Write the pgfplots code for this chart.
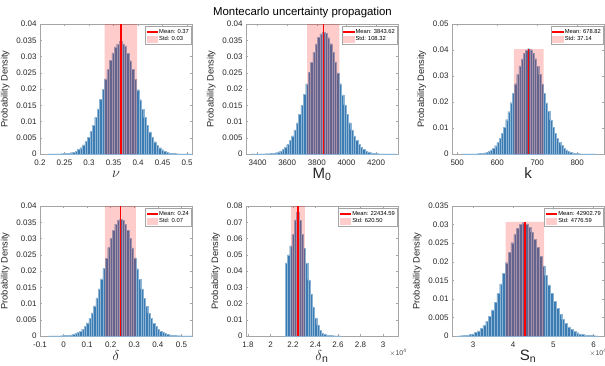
\documentclass[border=0pt]{standalone}
\usepackage{fontspec}
\setmainfont{Liberation Sans}
\usepackage{pgfplots}
\usepackage{pgfplotstable}
\pgfplotsset{compat=1.18}
\definecolor{histblue}{RGB}{60,124,178}
\definecolor{histedge}{RGB}{140,180,212}
\definecolor{axgray}{RGB}{165,165,165}
\definecolor{meanred}{RGB}{255,0,0}
\definecolor{stdpink}{RGB}{255,204,204}

% nu : bin centre = 0.364 + 0.005 k
\pgfplotstableread{
k y
-29 0.00002
-28 0.00003
-27 0.00004
-26 0.00005
-25 0.00006
-24 0.00008
-23 0.00012
-22 0.00018
-21 0.00027
-20 0.00040
-19 0.00060
-18 0.00090
-17 0.00135
-16 0.00195
-15 0.00278
-14 0.00382
-13 0.00516
-12 0.00690
-11 0.00880
-10 0.01125
-9 0.01390
-8 0.01690
-7 0.01990
-6 0.02310
-5 0.02600
-4 0.02890
-3 0.03110
-2 0.03300
-1 0.03380
0 0.03470
1 0.03390
2 0.03330
3 0.03100
4 0.02870
5 0.02610
6 0.02290
7 0.01980
8 0.01670
9 0.01380
10 0.01120
11 0.00885
12 0.00680
13 0.00512
14 0.00378
15 0.00273
16 0.00193
17 0.00133
18 0.00090
19 0.00059
20 0.00038
21 0.00024
22 0.00015
23 0.00010
24 0.00006
25 0.00004
26 0.00003
27 0.00002
28 0.00001
29 0.00001
}\tabNu

% M0 : bin centre = 3845 + 16 k
\pgfplotstableread{
k y
-30 0.00001
-29 0.00002
-28 0.00003
-27 0.00004
-26 0.00005
-25 0.00006
-24 0.00008
-23 0.00011
-22 0.00017
-21 0.00027
-20 0.00042
-19 0.00065
-18 0.00098
-17 0.00146
-16 0.00212
-15 0.00300
-14 0.00415
-13 0.00560
-12 0.00745
-11 0.00958
-10 0.01222
-9 0.01505
-8 0.01830
-7 0.02155
-6 0.02505
-5 0.02825
-4 0.03135
-3 0.03385
-2 0.03590
-1 0.03700
0 0.03750
1 0.03715
2 0.03580
3 0.03395
4 0.03125
5 0.02835
6 0.02495
7 0.02165
8 0.01820
9 0.01510
10 0.01215
11 0.00962
12 0.00740
13 0.00558
14 0.00412
15 0.00298
16 0.00209
17 0.00144
18 0.00097
19 0.00064
20 0.00041
21 0.00026
22 0.00016
23 0.00010
24 0.00007
25 0.00005
26 0.00004
27 0.00003
28 0.00002
29 0.00002
30 0.00001
}\tabM

% k : bin centre = 679 + 5.5 k
\pgfplotstableread{
k y
-30 0.00001
-29 0.00002
-28 0.00003
-27 0.00004
-26 0.00005
-25 0.00007
-24 0.00009
-23 0.00012
-22 0.00018
-21 0.00028
-20 0.00045
-19 0.00070
-18 0.00106
-17 0.00157
-16 0.00228
-15 0.00322
-14 0.00447
-13 0.00603
-12 0.00803
-11 0.01036
-10 0.01318
-9 0.01626
-8 0.01975
-7 0.02330
-6 0.02705
-5 0.03055
-4 0.03385
-3 0.03658
-2 0.03875
-1 0.04000
0 0.04050
1 0.04010
2 0.03870
3 0.03665
4 0.03380
5 0.03060
6 0.02698
7 0.02336
8 0.01970
9 0.01630
10 0.01314
11 0.01038
12 0.00801
13 0.00604
14 0.00445
15 0.00323
16 0.00226
17 0.00157
18 0.00106
19 0.00070
20 0.00045
21 0.00028
22 0.00017
23 0.00011
24 0.00007
25 0.00005
26 0.00004
27 0.00003
28 0.00002
29 0.00001
30 0.00001
}\tabK

% delta : bin centre = 0.242 + 0.01 k
\pgfplotstableread{
k y
-30 0.00002
-29 0.00003
-28 0.00004
-27 0.00005
-26 0.00007
-25 0.00009
-24 0.00012
-23 0.00016
-22 0.00024
-21 0.00035
-20 0.00052
-19 0.00075
-18 0.00108
-17 0.00152
-16 0.00212
-15 0.00295
-14 0.00402
-13 0.00540
-12 0.00715
-11 0.00925
-10 0.01172
-9 0.01448
-8 0.01755
-7 0.02075
-6 0.02400
-5 0.02720
-4 0.03005
-3 0.03255
-2 0.03440
-1 0.03555
0 0.03600
1 0.03565
2 0.03445
3 0.03250
4 0.03010
5 0.02715
6 0.02405
7 0.02070
8 0.01750
9 0.01450
10 0.01168
11 0.00920
12 0.00712
13 0.00538
14 0.00400
15 0.00292
16 0.00210
17 0.00150
18 0.00106
19 0.00074
20 0.00051
21 0.00034
22 0.00023
23 0.00015
24 0.00011
25 0.00008
26 0.00006
27 0.00004
28 0.00003
29 0.00002
30 0.00001
}\tabD

% delta_n : bin centres, width 200
\pgfplotstableread{
x y
21400 0.0450
21600 0.0500
21800 0.0555
22000 0.0625
22200 0.0715
22400 0.0760
22600 0.0712
22800 0.0625
23000 0.0540
23200 0.0450
23400 0.0345
23600 0.0260
23800 0.0180
24000 0.0112
24200 0.0068
24400 0.0036
24600 0.0019
24800 0.0010
25000 0.0006
25200 0.0004
25400 0.0003
25600 0.0002
25800 0.00015
26000 0.0001
26200 0.0001
}\tabDn

% S_n : bin centre = 42600 + 700 k
\pgfplotstableread{
k y
-23 0.00005
-22 0.00009
-21 0.00015
-20 0.00024
-19 0.00039
-18 0.00060
-17 0.00092
-16 0.00138
-15 0.00200
-14 0.00285
-13 0.00394
-12 0.00534
-11 0.00705
-10 0.00909
-9 0.01144
-8 0.01406
-7 0.01686
-6 0.01973
-5 0.02254
-4 0.02513
-3 0.02735
-2 0.02906
-1 0.03013
0 0.03050
1 0.03020
2 0.02934
3 0.02794
4 0.02608
5 0.02388
6 0.02144
7 0.01888
8 0.01629
9 0.01379
10 0.01144
11 0.00933
12 0.00744
13 0.00583
14 0.00446
15 0.00336
16 0.00248
17 0.00179
18 0.00127
19 0.00089
20 0.00060
21 0.00041
22 0.00027
23 0.00017
24 0.00011
25 0.00007
26 0.00004
}\tabS

\pgfplotsset{
  hist/.style={
    scale only axis, width=152pt, height=130pt,
    axis line style={axgray, line width=0.4pt},
    every tick/.style={axgray, line width=0.4pt},
    tick align=inside, major tick length=1.8pt,
    tick label style={font=\fontsize{8}{9}\selectfont, text=black!85},
    xticklabel style={yshift=-2pt},
    /pgf/number format/assume math mode=true,
    /pgf/number format/1000 sep={},
    scaled x ticks=false, scaled y ticks=false,
    yticklabel style={/pgf/number format/fixed, /pgf/number format/precision=3},
    ylabel={Probability Density},
    ylabel style={font=\fontsize{9.3}{10}\selectfont, text=black!85},
    xlabel style={font=\fontsize{15}{16}\selectfont, text=black!85, at={(rel axis cs:0.5,0)}, anchor=base, yshift=-24.5pt, inner sep=0pt},
    ymin=0,
    legend style={draw=axgray, line width=0.4pt, font=\fontsize{5.8}{6.6}\selectfont, at={(1,1)}, xshift=-0.8pt, yshift=-2.4pt, anchor=north east, inner xsep=1.2pt, inner ysep=1.4pt, row sep=0pt, nodes={inner sep=1pt}},
    legend cell align=left,
  },
  bars/.style={ybar, bar shift=0pt, fill=histblue, draw=histedge, line width=0.25pt, forget plot},
  shade/.style={fill=red, fill opacity=0.2, draw=none, forget plot},
  meanline/.style={meanred, line width=1.3pt, forget plot},
  scalelabel/.style={after end axis/.code={\node[font=\fontsize{7}{8}\selectfont, text=black!70, anchor=center] at (rel axis cs:1,0) [xshift=#1, yshift=-17pt] {$\times$10\textsuperscript{4}};}},
}
\newcommand{\meanstd}[2]{%
  \addlegendimage{meanred, fill=meanred, draw=none, legend image code/.code={\color{meanred}\pgfsetfillcolor{meanred}\pgfpathrectangle{\pgfpoint{0pt}{-0.8pt}}{\pgfpoint{11.5pt}{1.6pt}}\pgfusepath{fill}}}
  \addlegendentry{Mean: #1}
  \addlegendimage{legend image code/.code={\pgfsetfillcolor{stdpink}\pgfpathrectangle{\pgfpoint{0pt}{-3.3pt}}{\pgfpoint{11.5pt}{6.6pt}}\pgfusepath{fill}}}
  \addlegendentry{Std: #2}
}

\begin{document}
\begin{tikzpicture}
\path[use as bounding box] (0pt,0pt) rectangle (605pt,365pt);
\node[font=\fontsize{11.4}{13}\selectfont, anchor=base] at (302.5pt,349.5pt) {Montecarlo uncertainty propagation};

% ---------- nu ----------
\begin{axis}[hist, at={(40pt,211pt)}, anchor=south west,
  xmin=0.2, xmax=0.51, ymax=0.04,
  xtick={0.2,0.25,0.3,0.35,0.4,0.45,0.5},
  xticklabel style={/pgf/number format/fixed, /pgf/number format/precision=2},
  ytick={0,0.005,0.01,0.015,0.02,0.025,0.03,0.035,0.04},
  xlabel={$\nu$}, xlabel style={yshift=1.5pt}]
\addplot[bars, bar width=0.005] table[x expr={0.364+0.005*\thisrow{k}}, y=y] {\tabNu};
\addplot[shade] coordinates {(0.3317,0) (0.3317,0.041) (0.3983,0.041) (0.3983,0)} \closedcycle;
\addplot[meanline] coordinates {(0.365,0) (0.365,0.041)};
\meanstd{0.37}{0.03}
\end{axis}

% ---------- M0 ----------
\begin{axis}[hist, at={(246pt,211pt)}, anchor=south west,
  xmin=3322, xmax=4348, ymax=0.04,
  xtick={3400,3600,3800,4000,4200},
  ytick={0,0.005,0.01,0.015,0.02,0.025,0.03,0.035,0.04},
  xlabel={M\textsubscript{0}}]
\addplot[bars, bar width=16] table[x expr={3845+16*\thisrow{k}}, y=y] {\tabM};
\addplot[shade] coordinates {(3735.3,0) (3735.3,0.041) (3951.9,0.041) (3951.9,0)} \closedcycle;
\addplot[meanline] coordinates {(3843.62,0) (3843.62,0.041)};
\meanstd{3843.62}{108.32}
\end{axis}

% ---------- k ----------
\begin{axis}[hist, at={(452pt,211pt)}, anchor=south west,
  xmin=487, xmax=867, ymax=0.05,
  xtick={500,600,700,800},
  ytick={0,0.01,0.02,0.03,0.04,0.05},
  xlabel={k}]
\addplot[bars, bar width=5.5] table[x expr={679+5.5*\thisrow{k}}, y=y] {\tabK};
\addplot[shade] coordinates {(641.68,0) (641.68,0.0403) (715.96,0.0403) (715.96,0)} \closedcycle;
\addplot[meanline] coordinates {(678.82,0) (678.82,0.0403)};
\meanstd{678.82}{37.14}
\end{axis}

% ---------- delta ----------
\begin{axis}[hist, at={(40pt,29pt)}, anchor=south west,
  xmin=-0.1, xmax=0.545, ymax=0.04,
  xtick={-0.1,0,0.1,0.2,0.3,0.4,0.5},
  xticklabel style={/pgf/number format/fixed, /pgf/number format/precision=1},
  ytick={0,0.005,0.01,0.015,0.02,0.025,0.03,0.035,0.04},
  xlabel={$\delta$}]
\addplot[bars, bar width=0.01] table[x expr={0.242+0.01*\thisrow{k}}, y=y] {\tabD};
\addplot[shade] coordinates {(0.1755,0) (0.1755,0.041) (0.3065,0.041) (0.3065,0)} \closedcycle;
\addplot[meanline] coordinates {(0.241,0) (0.241,0.041)};
\meanstd{0.24}{0.07}
\end{axis}

% ---------- delta_n ----------
\begin{axis}[hist, at={(246pt,29pt)}, anchor=south west,
  xmin=17820, xmax=31330, ymax=0.08,
  xtick={18000,20000,22000,24000,26000,28000,30000},
  xticklabels={1.8,2,2.2,2.4,2.6,2.8,3},
  ytick={0,0.01,0.02,0.03,0.04,0.05,0.06,0.07,0.08},
  xlabel={$\delta$\textsubscript{n}}, scalelabel=0pt]
\addplot[bars, bar width=200] table[x=x, y=y] {\tabDn};
\addplot[shade] coordinates {(21814.1,0) (21814.1,0.082) (23055.1,0.082) (23055.1,0)} \closedcycle;
\addplot[meanline] coordinates {(22434.59,0) (22434.59,0.082)};
\meanstd{22434.59}{620.50}
\end{axis}

% ---------- S_n ----------
\begin{axis}[hist, at={(452pt,29pt)}, anchor=south west,
  xmin=24780, xmax=62590, ymax=0.035,
  xtick={30000,40000,50000,60000},
  xticklabels={3,4,5,6},
  ytick={0,0.005,0.01,0.015,0.02,0.025,0.03,0.035},
  xlabel={S\textsubscript{n}}, scalelabel=-6pt]
\addplot[bars, bar width=700] table[x expr={42600+700*\thisrow{k}}, y=y] {\tabS};
\addplot[shade] coordinates {(38126.2,0) (38126.2,0.0307) (47679.4,0.0307) (47679.4,0)} \closedcycle;
\addplot[meanline] coordinates {(42902.79,0) (42902.79,0.0307)};
\meanstd{42902.79}{4776.59}
\end{axis}
\end{tikzpicture}
\end{document}
